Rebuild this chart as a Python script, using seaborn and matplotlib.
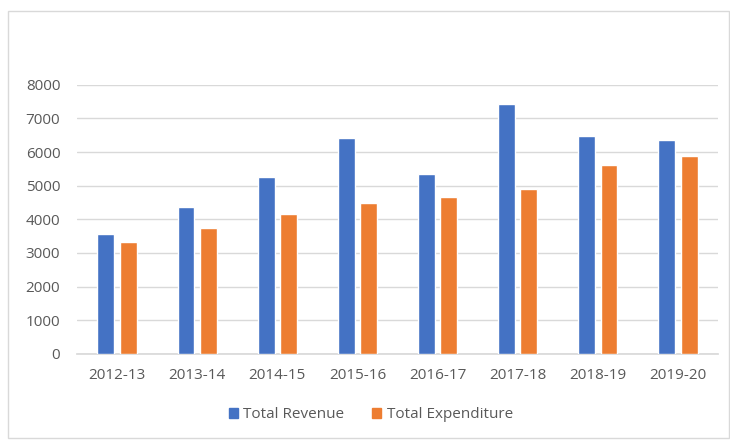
import matplotlib
matplotlib.use("Agg")
import matplotlib.pyplot as plt
import matplotlib.patches as mpatches
import seaborn as sns
import pandas as pd

# Fiscal years and totals
years = ["2012-13", "2013-14", "2014-15", "2015-16",
         "2016-17", "2017-18", "2018-19", "2019-20"]
total_revenue = [3560, 4370, 5270, 6420, 5360, 7440, 6480, 6370]
total_expenditure = [3330, 3730, 4170, 4490, 4660, 4910, 5610, 5870]
series_names = ["Total Revenue", "Total Expenditure"]
yticks = [0, 1000, 2000, 3000, 4000, 5000, 6000, 7000, 8000]

df = pd.DataFrame({
    "Year": years * 2,
    "Value": total_revenue + total_expenditure,
    "Series": [series_names[0]] * len(years) + [series_names[1]] * len(years),
})

sns.set_theme(style="white")
plt.rcParams["font.family"] = ["Open Sans", "DejaVu Sans"]

fig = plt.figure(figsize=(7.3, 4.4), dpi=100)
ax = fig.add_axes([0.1055, 0.1955, 0.878, 0.612])

palette = {series_names[0]: "#4472C4", series_names[1]: "#ED7D31"}
sns.barplot(data=df, x="Year", y="Value", hue="Series", palette=palette,
            width=0.56, gap=0.25, saturation=1, ax=ax, legend=False,
            zorder=3)

ax.set_ylim(0, 8000)
ax.set_xlim(-0.5, len(years) - 0.5)
ax.set_yticks(yticks)
ax.set_yticklabels([str(t) for t in yticks])
ax.set_xlabel("")
ax.set_ylabel("")
ax.grid(axis="y", color="#D9D9D9", linewidth=1, zorder=0)
ax.grid(axis="x", visible=False)
for s in ["top", "right", "left"]:
    ax.spines[s].set_visible(False)
ax.spines["bottom"].set_color("#D9D9D9")
ax.tick_params(axis="both", length=0, labelsize=11, labelcolor="#595959")
ax.tick_params(axis="y", pad=12)
ax.tick_params(axis="x", pad=10)

handles = [mpatches.Patch(color=palette[n], label=n) for n in series_names]
fig.legend(handles=handles, loc="center", bbox_to_anchor=(0.508, 0.057),
           ncol=2, frameon=False, fontsize=11, handlelength=0.6,
           handleheight=0.6, columnspacing=1.8, handletextpad=0.35,
           labelcolor="#595959")

# Light chart-area border
fig.patches.append(mpatches.Rectangle((8 / 730, 2 / 440), 721 / 730, 427 / 440,
                                      transform=fig.transFigure, fill=False,
                                      edgecolor="#D9D9D9", linewidth=1))

fig.savefig("out.png", dpi=100, facecolor="white")
